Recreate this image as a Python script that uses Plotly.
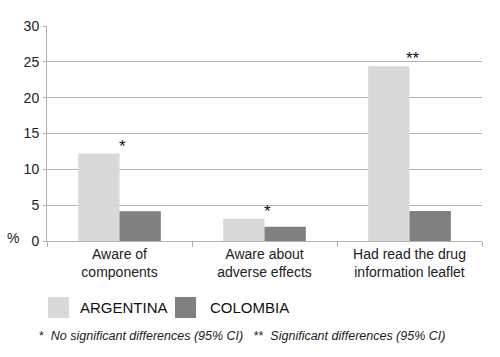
import plotly.graph_objects as go

categories = ["Aware of<br>components", "Aware about<br>adverse effects", "Had read the drug<br>information leaflet"]
argentina = [12.2, 3.1, 24.4]
colombia = [4.15, 2.0, 4.2]
significance = ["*", "*", "**"]
series_names = ["ARGENTINA", "COLOMBIA"]
colors = ["#d9d9d9", "#808080"]

W, H = 500, 357
ml, mr, mt, mb = 47, 18, 26, 116

fig = go.Figure()
fig.add_trace(go.Bar(x=categories, y=argentina, name=series_names[0], marker_color=colors[0], marker_line_width=0))
fig.add_trace(go.Bar(x=categories, y=colombia, name=series_names[1], marker_color=colors[1], marker_line_width=0))

font = "Liberation Sans, Arial, sans-serif"
for c, a, b, s in zip(categories, argentina, colombia, significance):
    fig.add_annotation(x=c, y=max(a, b), xref="x", yref="y", text=s, showarrow=False,
                       yanchor="bottom", yshift=-4, xshift=3, font=dict(family=font, size=17, color="#111"))


def px_x(p):
    return (p - ml) / (W - ml - mr)


def px_y(p):
    return (H - mb - p) / (H - mt - mb)


# y-axis unit label
fig.add_annotation(x=px_x(13), y=px_y(238), xref="paper", yref="paper", text="%", showarrow=False,
                   font=dict(family=font, size=14, color="#222"), xanchor="center", yanchor="middle")

# custom legend
legend_items = [(48, 78), (175, 208)]
for (sx, tx), name, col in zip(legend_items, series_names, colors):
    fig.add_shape(type="rect", xref="paper", yref="paper", x0=px_x(sx), x1=px_x(sx + 21),
                  y0=px_y(318), y1=px_y(297), fillcolor=col, line=dict(width=0))
    fig.add_annotation(x=px_x(tx), y=px_y(307.5), xref="paper", yref="paper", text=name, showarrow=False,
                       xanchor="left", yanchor="middle", font=dict(family=font, size=15, color="#111"))

fig.add_annotation(x=px_x(37), y=px_y(336), xref="paper", yref="paper",
                   text="*  <i>No significant differences (95% CI)</i>   **  <i>Significant differences (95% CI)</i>",
                   showarrow=False, xanchor="left", yanchor="middle",
                   font=dict(family=font, size=12.5, color="#222"))

fig.update_layout(
    width=W, height=H, margin=dict(l=ml, r=mr, t=mt, b=mb),
    plot_bgcolor="white", paper_bgcolor="white", showlegend=False,
    barmode="group", bargap=0.43, bargroupgap=0,
    font=dict(family=font, size=14, color="#222"),
)
fig.update_yaxes(range=[0, 30], dtick=5, showgrid=True, gridcolor="#b3b3b3", gridwidth=1,
                 showline=True, linecolor="#b3b3b3", linewidth=1, ticks="outside", ticklen=3,
                 tickcolor="#b3b3b3", zeroline=False, tickfont=dict(size=14), ticklabelstandoff=1)
fig.update_xaxes(showline=True, linecolor="#b3b3b3", linewidth=1, ticks="outside", tickson="boundaries",
                 ticklen=5, tickcolor="#b3b3b3", tickfont=dict(size=14), showgrid=False)

fig.write_html("out.html", config={"displayModeBar": False}, post_script="document.body.style.margin='0';")
